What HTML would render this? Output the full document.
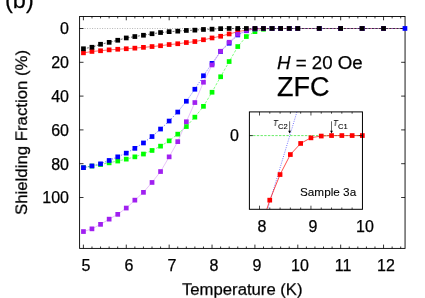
<!DOCTYPE html><html><head><meta charset="utf-8"><title>chart</title><style>
html,body{margin:0;padding:0;background:#fff;}
body{width:425px;height:298px;position:relative;overflow:hidden;font-family:"Liberation Sans",sans-serif;color:#000;}
.t{position:absolute;white-space:nowrap;line-height:1;will-change:transform;-webkit-text-stroke:0.25px #000;}

.t.sm{-webkit-text-stroke:0.1px #000;}
.xl{font-size:16px;width:40px;text-align:center;top:257.9px;}
.yl{font-size:16px;width:60px;text-align:right;left:8.6px;}
.il{font-size:16px;width:40px;text-align:center;top:219.3px;}
</style></head><body>
<svg width="425" height="298" viewBox="0 0 425 298" style="position:absolute;left:0;top:0">
<rect width="425" height="298" fill="#fff"/>
<path d="M79.6,28.5 H405.05" stroke="#444" stroke-width="0.4" stroke-dasharray="1,1.5" />
<path d="M83.4,52.9 L92.0,51.5 L100.6,50.7 L109.1,49.9 L117.7,49.3 L126.3,48.7 L134.9,48.1 L143.4,47.4 L152.0,46.6 L160.6,45.7 L169.2,44.6 L177.7,43.8 L186.3,42.6 L194.9,41.6 L203.5,39.8 L212.0,38.0 L220.6,36.2 L229.2,34.0 L237.8,31.7 L246.3,30.0 L254.9,29.0 L263.5,28.5 L272.1,28.5 L280.6,28.5 L289.2,28.5 L297.8,28.5 L319.2,28.5 L340.7,28.5 L362.1,28.5 L383.6,28.5 L405.0,28.5" fill="none" stroke="#ff0000" stroke-width="0.6"/>
<rect x="81.1" y="50.5" width="4.7" height="4.7" fill="#ff0000"/><rect x="89.6" y="49.1" width="4.7" height="4.7" fill="#ff0000"/><rect x="98.2" y="48.4" width="4.7" height="4.7" fill="#ff0000"/><rect x="106.8" y="47.5" width="4.7" height="4.7" fill="#ff0000"/><rect x="115.4" y="46.9" width="4.7" height="4.7" fill="#ff0000"/><rect x="123.9" y="46.4" width="4.7" height="4.7" fill="#ff0000"/><rect x="132.5" y="45.8" width="4.7" height="4.7" fill="#ff0000"/><rect x="141.1" y="45.0" width="4.7" height="4.7" fill="#ff0000"/><rect x="149.7" y="44.2" width="4.7" height="4.7" fill="#ff0000"/><rect x="158.2" y="43.4" width="4.7" height="4.7" fill="#ff0000"/><rect x="166.8" y="42.2" width="4.7" height="4.7" fill="#ff0000"/><rect x="175.4" y="41.4" width="4.7" height="4.7" fill="#ff0000"/><rect x="184.0" y="40.2" width="4.7" height="4.7" fill="#ff0000"/><rect x="192.5" y="39.2" width="4.7" height="4.7" fill="#ff0000"/><rect x="201.1" y="37.4" width="4.7" height="4.7" fill="#ff0000"/><rect x="209.7" y="35.6" width="4.7" height="4.7" fill="#ff0000"/><rect x="218.3" y="33.9" width="4.7" height="4.7" fill="#ff0000"/><rect x="226.8" y="31.6" width="4.7" height="4.7" fill="#ff0000"/><rect x="235.4" y="29.3" width="4.7" height="4.7" fill="#ff0000"/><rect x="244.0" y="27.6" width="4.7" height="4.7" fill="#ff0000"/><rect x="252.6" y="26.6" width="4.7" height="4.7" fill="#ff0000"/><rect x="261.1" y="26.1" width="4.7" height="4.7" fill="#ff0000"/><rect x="269.7" y="26.1" width="4.7" height="4.7" fill="#ff0000"/><rect x="278.3" y="26.1" width="4.7" height="4.7" fill="#ff0000"/><rect x="286.9" y="26.1" width="4.7" height="4.7" fill="#ff0000"/><rect x="295.4" y="26.1" width="4.7" height="4.7" fill="#ff0000"/><rect x="316.9" y="26.1" width="4.7" height="4.7" fill="#ff0000"/><rect x="338.3" y="26.1" width="4.7" height="4.7" fill="#ff0000"/><rect x="359.8" y="26.1" width="4.7" height="4.7" fill="#ff0000"/><rect x="381.2" y="26.1" width="4.7" height="4.7" fill="#ff0000"/>

<path d="M83.4,167.7 L92.0,166.0 L100.6,164.5 L109.1,162.8 L117.7,161.0 L126.3,159.2 L134.9,156.8 L143.4,154.0 L152.0,150.4 L160.6,146.2 L169.2,140.8 L177.7,134.1 L186.3,126.6 L194.9,117.1 L203.5,106.3 L212.0,92.2 L220.6,76.7 L229.2,61.6 L237.8,46.6 L246.3,36.6 L254.9,31.7 L263.5,29.3 L272.1,28.5 L280.6,28.5 L289.2,28.5 L297.8,28.5 L319.2,28.5 L340.7,28.5 L362.1,28.5 L383.6,28.5 L405.0,28.5" fill="none" stroke="#00ff00" stroke-width="0.5" stroke-dasharray="2.6,1.6"/>
<rect x="81.1" y="165.3" width="4.7" height="4.7" fill="#00ff00"/><rect x="89.6" y="163.7" width="4.7" height="4.7" fill="#00ff00"/><rect x="98.2" y="162.2" width="4.7" height="4.7" fill="#00ff00"/><rect x="106.8" y="160.5" width="4.7" height="4.7" fill="#00ff00"/><rect x="115.4" y="158.7" width="4.7" height="4.7" fill="#00ff00"/><rect x="123.9" y="156.8" width="4.7" height="4.7" fill="#00ff00"/><rect x="132.5" y="154.5" width="4.7" height="4.7" fill="#00ff00"/><rect x="141.1" y="151.7" width="4.7" height="4.7" fill="#00ff00"/><rect x="149.7" y="148.1" width="4.7" height="4.7" fill="#00ff00"/><rect x="158.2" y="143.8" width="4.7" height="4.7" fill="#00ff00"/><rect x="166.8" y="138.5" width="4.7" height="4.7" fill="#00ff00"/><rect x="175.4" y="131.8" width="4.7" height="4.7" fill="#00ff00"/><rect x="184.0" y="124.2" width="4.7" height="4.7" fill="#00ff00"/><rect x="192.5" y="114.8" width="4.7" height="4.7" fill="#00ff00"/><rect x="201.1" y="104.0" width="4.7" height="4.7" fill="#00ff00"/><rect x="209.7" y="89.9" width="4.7" height="4.7" fill="#00ff00"/><rect x="218.3" y="74.4" width="4.7" height="4.7" fill="#00ff00"/><rect x="226.8" y="59.2" width="4.7" height="4.7" fill="#00ff00"/><rect x="235.4" y="44.2" width="4.7" height="4.7" fill="#00ff00"/><rect x="244.0" y="34.2" width="4.7" height="4.7" fill="#00ff00"/><rect x="252.6" y="29.3" width="4.7" height="4.7" fill="#00ff00"/><rect x="261.1" y="26.9" width="4.7" height="4.7" fill="#00ff00"/><rect x="269.7" y="26.1" width="4.7" height="4.7" fill="#00ff00"/><rect x="278.3" y="26.1" width="4.7" height="4.7" fill="#00ff00"/><rect x="286.9" y="26.1" width="4.7" height="4.7" fill="#00ff00"/><rect x="295.4" y="26.1" width="4.7" height="4.7" fill="#00ff00"/><rect x="316.9" y="26.1" width="4.7" height="4.7" fill="#00ff00"/><rect x="338.3" y="26.1" width="4.7" height="4.7" fill="#00ff00"/><rect x="359.8" y="26.1" width="4.7" height="4.7" fill="#00ff00"/><rect x="381.2" y="26.1" width="4.7" height="4.7" fill="#00ff00"/>

<path d="M83.4,167.7 L92.0,165.9 L100.6,163.8 L109.1,160.4 L117.7,156.8 L126.3,153.1 L134.9,148.3 L143.4,142.9 L152.0,136.5 L160.6,129.0 L169.2,121.0 L177.7,112.0 L186.3,101.2 L194.9,89.2 L203.5,75.7 L212.0,63.4 L220.6,51.5 L229.2,43.2 L237.8,35.0 L246.3,30.8 L254.9,29.0 L263.5,28.5 L272.1,28.5 L280.6,28.5 L289.2,28.5 L297.8,28.5 L319.2,28.5 L340.7,28.5 L362.1,28.5 L383.6,28.5 L405.0,28.5" fill="none" stroke="#0000ff" stroke-width="0.6" stroke-dasharray="1,1.5"/>
<rect x="81.1" y="165.3" width="4.7" height="4.7" fill="#0000ff"/><rect x="89.6" y="163.6" width="4.7" height="4.7" fill="#0000ff"/><rect x="98.2" y="161.5" width="4.7" height="4.7" fill="#0000ff"/><rect x="106.8" y="158.1" width="4.7" height="4.7" fill="#0000ff"/><rect x="115.4" y="154.5" width="4.7" height="4.7" fill="#0000ff"/><rect x="123.9" y="150.8" width="4.7" height="4.7" fill="#0000ff"/><rect x="132.5" y="146.0" width="4.7" height="4.7" fill="#0000ff"/><rect x="141.1" y="140.6" width="4.7" height="4.7" fill="#0000ff"/><rect x="149.7" y="134.2" width="4.7" height="4.7" fill="#0000ff"/><rect x="158.2" y="126.7" width="4.7" height="4.7" fill="#0000ff"/><rect x="166.8" y="118.7" width="4.7" height="4.7" fill="#0000ff"/><rect x="175.4" y="109.7" width="4.7" height="4.7" fill="#0000ff"/><rect x="184.0" y="98.9" width="4.7" height="4.7" fill="#0000ff"/><rect x="192.5" y="86.9" width="4.7" height="4.7" fill="#0000ff"/><rect x="201.1" y="73.4" width="4.7" height="4.7" fill="#0000ff"/><rect x="209.7" y="61.0" width="4.7" height="4.7" fill="#0000ff"/><rect x="218.3" y="49.1" width="4.7" height="4.7" fill="#0000ff"/><rect x="226.8" y="40.9" width="4.7" height="4.7" fill="#0000ff"/><rect x="235.4" y="32.6" width="4.7" height="4.7" fill="#0000ff"/><rect x="244.0" y="28.4" width="4.7" height="4.7" fill="#0000ff"/><rect x="252.6" y="26.6" width="4.7" height="4.7" fill="#0000ff"/><rect x="261.1" y="26.1" width="4.7" height="4.7" fill="#0000ff"/><rect x="269.7" y="26.1" width="4.7" height="4.7" fill="#0000ff"/><rect x="278.3" y="26.1" width="4.7" height="4.7" fill="#0000ff"/><rect x="286.9" y="26.1" width="4.7" height="4.7" fill="#0000ff"/><rect x="295.4" y="26.1" width="4.7" height="4.7" fill="#0000ff"/><rect x="316.9" y="26.1" width="4.7" height="4.7" fill="#0000ff"/><rect x="338.3" y="26.1" width="4.7" height="4.7" fill="#0000ff"/><rect x="359.8" y="26.1" width="4.7" height="4.7" fill="#0000ff"/><rect x="381.2" y="26.1" width="4.7" height="4.7" fill="#0000ff"/>

<path d="M83.4,231.6 L92.0,228.8 L100.6,224.3 L109.1,219.2 L117.7,214.3 L126.3,208.0 L134.9,200.2 L143.4,192.3 L152.0,182.4 L160.6,171.5 L169.2,156.8 L177.7,141.7 L186.3,121.7 L194.9,102.5 L203.5,82.2 L212.0,65.0 L220.6,51.3 L229.2,42.2 L237.8,34.2 L246.3,30.5 L254.9,28.9 L263.5,28.5 L272.1,28.5 L280.6,28.5 L289.2,28.5 L297.8,28.5 L319.2,28.5 L340.7,28.5 L362.1,28.5 L383.6,28.5 L405.0,28.5" fill="none" stroke="#c468f0" stroke-width="0.4"/>
<rect x="81.1" y="229.2" width="4.7" height="4.7" fill="#a020f0"/><rect x="89.6" y="226.5" width="4.7" height="4.7" fill="#a020f0"/><rect x="98.2" y="222.0" width="4.7" height="4.7" fill="#a020f0"/><rect x="106.8" y="216.8" width="4.7" height="4.7" fill="#a020f0"/><rect x="115.4" y="212.0" width="4.7" height="4.7" fill="#a020f0"/><rect x="123.9" y="205.7" width="4.7" height="4.7" fill="#a020f0"/><rect x="132.5" y="197.8" width="4.7" height="4.7" fill="#a020f0"/><rect x="141.1" y="190.0" width="4.7" height="4.7" fill="#a020f0"/><rect x="149.7" y="180.1" width="4.7" height="4.7" fill="#a020f0"/><rect x="158.2" y="169.2" width="4.7" height="4.7" fill="#a020f0"/><rect x="166.8" y="154.5" width="4.7" height="4.7" fill="#a020f0"/><rect x="175.4" y="139.3" width="4.7" height="4.7" fill="#a020f0"/><rect x="184.0" y="119.4" width="4.7" height="4.7" fill="#a020f0"/><rect x="192.5" y="100.2" width="4.7" height="4.7" fill="#a020f0"/><rect x="201.1" y="79.9" width="4.7" height="4.7" fill="#a020f0"/><rect x="209.7" y="62.6" width="4.7" height="4.7" fill="#a020f0"/><rect x="218.3" y="48.9" width="4.7" height="4.7" fill="#a020f0"/><rect x="226.8" y="39.9" width="4.7" height="4.7" fill="#a020f0"/><rect x="235.4" y="31.9" width="4.7" height="4.7" fill="#a020f0"/><rect x="244.0" y="28.1" width="4.7" height="4.7" fill="#a020f0"/><rect x="252.6" y="26.5" width="4.7" height="4.7" fill="#a020f0"/><rect x="261.1" y="26.1" width="4.7" height="4.7" fill="#a020f0"/><rect x="269.7" y="26.1" width="4.7" height="4.7" fill="#a020f0"/><rect x="278.3" y="26.1" width="4.7" height="4.7" fill="#a020f0"/><rect x="286.9" y="26.1" width="4.7" height="4.7" fill="#a020f0"/><rect x="295.4" y="26.1" width="4.7" height="4.7" fill="#a020f0"/><rect x="316.9" y="26.1" width="4.7" height="4.7" fill="#a020f0"/><rect x="338.3" y="26.1" width="4.7" height="4.7" fill="#a020f0"/><rect x="359.8" y="26.1" width="4.7" height="4.7" fill="#a020f0"/><rect x="381.2" y="26.1" width="4.7" height="4.7" fill="#a020f0"/>

<path d="M83.4,48.7 L92.0,47.2 L100.6,44.2 L109.1,42.4 L117.7,40.2 L126.3,38.0 L134.9,36.6 L143.4,35.2 L152.0,33.8 L160.6,32.6 L169.2,31.7 L177.7,31.1 L186.3,30.5 L194.9,30.1 L203.5,29.5 L212.0,29.1 L220.6,28.7 L229.2,28.5 L237.8,28.5 L246.3,28.5 L254.9,28.5 L263.5,28.5 L272.1,28.5 L280.6,28.5 L289.2,28.5 L297.8,28.5 L319.2,28.5 L340.7,28.5 L362.1,28.5 L383.6,28.5 L405.0,28.5" fill="none" stroke="#000000" stroke-width="0.6" stroke-dasharray="2,1.5"/>
<rect x="81.1" y="46.4" width="4.7" height="4.7" fill="#000000"/><rect x="89.6" y="44.9" width="4.7" height="4.7" fill="#000000"/><rect x="98.2" y="41.9" width="4.7" height="4.7" fill="#000000"/><rect x="106.8" y="40.0" width="4.7" height="4.7" fill="#000000"/><rect x="115.4" y="37.9" width="4.7" height="4.7" fill="#000000"/><rect x="123.9" y="35.6" width="4.7" height="4.7" fill="#000000"/><rect x="132.5" y="34.2" width="4.7" height="4.7" fill="#000000"/><rect x="141.1" y="32.9" width="4.7" height="4.7" fill="#000000"/><rect x="149.7" y="31.4" width="4.7" height="4.7" fill="#000000"/><rect x="158.2" y="30.2" width="4.7" height="4.7" fill="#000000"/><rect x="166.8" y="29.3" width="4.7" height="4.7" fill="#000000"/><rect x="175.4" y="28.8" width="4.7" height="4.7" fill="#000000"/><rect x="184.0" y="28.1" width="4.7" height="4.7" fill="#000000"/><rect x="192.5" y="27.8" width="4.7" height="4.7" fill="#000000"/><rect x="201.1" y="27.1" width="4.7" height="4.7" fill="#000000"/><rect x="209.7" y="26.8" width="4.7" height="4.7" fill="#000000"/><rect x="218.3" y="26.3" width="4.7" height="4.7" fill="#000000"/><rect x="226.8" y="26.1" width="4.7" height="4.7" fill="#000000"/><rect x="235.4" y="26.1" width="4.7" height="4.7" fill="#000000"/><rect x="244.0" y="26.1" width="4.7" height="4.7" fill="#000000"/><rect x="252.6" y="26.1" width="4.7" height="4.7" fill="#000000"/><rect x="261.1" y="26.1" width="4.7" height="4.7" fill="#000000"/><rect x="269.7" y="26.1" width="4.7" height="4.7" fill="#000000"/><rect x="278.3" y="26.1" width="4.7" height="4.7" fill="#000000"/><rect x="286.9" y="26.1" width="4.7" height="4.7" fill="#000000"/><rect x="295.4" y="26.1" width="4.7" height="4.7" fill="#000000"/><rect x="316.9" y="26.1" width="4.7" height="4.7" fill="#000000"/><rect x="338.3" y="26.1" width="4.7" height="4.7" fill="#000000"/><rect x="359.8" y="26.1" width="4.7" height="4.7" fill="#000000"/><rect x="381.2" y="26.1" width="4.7" height="4.7" fill="#000000"/>

<path d="M83.40,248.4 v-3.8 M83.40,16.5 v3.8 M91.98,248.4 v-1.9 M91.98,16.5 v1.9 M100.55,248.4 v-1.9 M100.55,16.5 v1.9 M109.13,248.4 v-1.9 M109.13,16.5 v1.9 M117.70,248.4 v-1.9 M117.70,16.5 v1.9 M126.28,248.4 v-3.8 M126.28,16.5 v3.8 M134.86,248.4 v-1.9 M134.86,16.5 v1.9 M143.43,248.4 v-1.9 M143.43,16.5 v1.9 M152.01,248.4 v-1.9 M152.01,16.5 v1.9 M160.58,248.4 v-1.9 M160.58,16.5 v1.9 M169.16,248.4 v-3.8 M169.16,16.5 v3.8 M177.74,248.4 v-1.9 M177.74,16.5 v1.9 M186.31,248.4 v-1.9 M186.31,16.5 v1.9 M194.89,248.4 v-1.9 M194.89,16.5 v1.9 M203.46,248.4 v-1.9 M203.46,16.5 v1.9 M212.04,248.4 v-3.8 M212.04,16.5 v3.8 M220.62,248.4 v-1.9 M220.62,16.5 v1.9 M229.19,248.4 v-1.9 M229.19,16.5 v1.9 M237.77,248.4 v-1.9 M237.77,16.5 v1.9 M246.34,248.4 v-1.9 M246.34,16.5 v1.9 M254.92,248.4 v-3.8 M254.92,16.5 v3.8 M263.50,248.4 v-1.9 M263.50,16.5 v1.9 M272.07,248.4 v-1.9 M272.07,16.5 v1.9 M280.65,248.4 v-1.9 M280.65,16.5 v1.9 M289.22,248.4 v-1.9 M289.22,16.5 v1.9 M297.80,248.4 v-3.8 M297.80,16.5 v3.8 M306.38,248.4 v-1.9 M306.38,16.5 v1.9 M314.95,248.4 v-1.9 M314.95,16.5 v1.9 M323.53,248.4 v-1.9 M323.53,16.5 v1.9 M332.10,248.4 v-1.9 M332.10,16.5 v1.9 M340.68,248.4 v-3.8 M340.68,16.5 v3.8 M349.26,248.4 v-1.9 M349.26,16.5 v1.9 M357.83,248.4 v-1.9 M357.83,16.5 v1.9 M366.41,248.4 v-1.9 M366.41,16.5 v1.9 M374.98,248.4 v-1.9 M374.98,16.5 v1.9 M383.56,248.4 v-3.8 M383.56,16.5 v3.8 M392.14,248.4 v-1.9 M392.14,16.5 v1.9 M400.71,248.4 v-1.9 M400.71,16.5 v1.9 M79.6,28.50 h3.9 M405.05,28.50 h-3.9 M79.6,62.30 h3.9 M405.05,62.30 h-3.9 M79.6,96.10 h3.9 M405.05,96.10 h-3.9 M79.6,129.90 h3.9 M405.05,129.90 h-3.9 M79.6,163.70 h3.9 M405.05,163.70 h-3.9 M79.6,197.50 h3.9 M405.05,197.50 h-3.9" stroke="#000" stroke-width="0.8" fill="none"/>
<rect x="79.6" y="16.5" width="325.45000000000005" height="231.9" fill="none" stroke="#000" stroke-width="0.9"/>
<rect x="402.6" y="26.1" width="4.7" height="4.7" fill="#0000ff"/>
<rect x="249.4" y="111.9" width="113.04999999999998" height="97.4" fill="#fff"/>
<clipPath id="ic"><rect x="249.4" y="111.9" width="116.04999999999998" height="97.4"/></clipPath>
<g clip-path="url(#ic)">
<path d="M249.4,135.6 H362.45" stroke="#00dd00" stroke-width="0.6" stroke-dasharray="2.4,1.3"/>
<path d="M296.9,112.0 L267.7,208.9" stroke="#0000ff" stroke-width="0.55" stroke-dasharray="1,1.3"/>
<path d="M266.4,210.5 L269.8,200.1 L280.1,174.5 L290.4,154.5 L300.7,143.4 L310.9,137.8 L321.2,136.0 L331.5,135.6 L341.8,135.6 L352.1,135.6 L362.4,135.6" fill="none" stroke="#ff0000" stroke-width="0.7"/>
<rect x="267.4" y="197.8" width="4.7" height="4.7" fill="#ff0000"/>
<rect x="277.7" y="172.2" width="4.7" height="4.7" fill="#ff0000"/>
<rect x="288.0" y="152.2" width="4.7" height="4.7" fill="#ff0000"/>
<rect x="298.3" y="141.1" width="4.7" height="4.7" fill="#ff0000"/>
<rect x="308.6" y="135.5" width="4.7" height="4.7" fill="#ff0000"/>
<rect x="318.9" y="133.7" width="4.7" height="4.7" fill="#ff0000"/>
<rect x="329.2" y="133.2" width="4.7" height="4.7" fill="#ff0000"/>
<rect x="339.5" y="133.2" width="4.7" height="4.7" fill="#ff0000"/>
<rect x="349.8" y="133.2" width="4.7" height="4.7" fill="#ff0000"/>
<rect x="360.0" y="133.2" width="4.7" height="4.7" fill="#ff0000"/>
</g>
<path d="M259.50,209.3 v-3.6 M259.50,111.9 v3.6 M269.79,209.3 v-1.8 M269.79,111.9 v1.8 M280.08,209.3 v-1.8 M280.08,111.9 v1.8 M290.37,209.3 v-1.8 M290.37,111.9 v1.8 M300.66,209.3 v-1.8 M300.66,111.9 v1.8 M310.95,209.3 v-3.6 M310.95,111.9 v3.6 M321.24,209.3 v-1.8 M321.24,111.9 v1.8 M331.53,209.3 v-1.8 M331.53,111.9 v1.8 M341.82,209.3 v-1.8 M341.82,111.9 v1.8 M352.11,209.3 v-1.8 M352.11,111.9 v1.8 M249.4,135.6 h3.6 M362.45,135.6 h-3.6" stroke="#000" stroke-width="0.7" fill="none"/>
<rect x="249.4" y="111.9" width="113.04999999999998" height="97.4" fill="none" stroke="#000" stroke-width="1"/>
<path d="M289.6,121.3 V132.0" stroke="#000" stroke-width="0.6"/>
<path d="M288.20000000000005,130.8 L289.6,133.6 L291.0,130.8 Z" fill="#000"/>
<path d="M331.5,121.3 V132.0" stroke="#000" stroke-width="0.6"/>
<path d="M330.1,130.8 L331.5,133.6 L332.9,130.8 Z" fill="#000"/>
</svg>
<div class="t" style="left:4.6px;top:-11.3px;font-size:23.5px;">(b)</div>
<div class="t xl" style="left:65.8px">5</div>
<div class="t xl" style="left:108.7px">6</div>
<div class="t xl" style="left:151.6px">7</div>
<div class="t xl" style="left:194.4px">8</div>
<div class="t xl" style="left:237.3px">9</div>
<div class="t xl" style="left:280.2px">10</div>
<div class="t xl" style="left:323.1px">11</div>
<div class="t xl" style="left:366.0px">12</div>
<div class="t yl" style="top:21.4px">0</div>
<div class="t yl" style="top:55.2px">20</div>
<div class="t yl" style="top:89.0px">40</div>
<div class="t yl" style="top:122.8px">60</div>
<div class="t yl" style="top:156.6px">80</div>
<div class="t yl" style="top:190.4px">100</div>
<div class="t il" style="left:241.9px">8</div>
<div class="t il" style="left:293.3px">9</div>
<div class="t il" style="left:344.8px">10</div>
<div class="t" style="left:157.4px;top:218.7px;font-size:16px;display:none"></div>
<div class="t" style="left:230.1px;top:127.6px;font-size:16px;">0</div>
<div class="t" style="left:181.6px;top:282.2px;font-size:16.7px;transform-origin:0 50%;transform:scaleY(0.97);">Temperature (K)</div>
<div class="t" id="yt" style="left:0;top:0;font-size:16.8px;transform-origin:0 0;transform:translate(14.4px,215.0px) rotate(-90deg) scaleY(0.97);">Shielding Fraction (%)</div>
<div class="t" style="left:276.5px;top:53.9px;font-size:18.7px;"><i>H</i> = 20 Oe</div>
<div class="t" style="left:276.6px;top:73.6px;font-size:27px;">ZFC</div>
<div class="t sm" style="left:300.1px;top:186.4px;font-size:11.75px;">Sample 3a</div>
<div class="t sm" style="left:273.1px;top:117.9px;font-size:9.8px;transform-origin:0 0;transform:scaleX(0.82);"><i>T</i></div>
<div class="t sm" style="left:277.8px;top:122.5px;font-size:7.6px;">C2</div>
<div class="t sm" style="left:333.4px;top:117.9px;font-size:9.8px;transform-origin:0 0;transform:scaleX(0.82);"><i>T</i></div>
<div class="t sm" style="left:338.1px;top:122.5px;font-size:7.6px;">C1</div>
</body></html>
